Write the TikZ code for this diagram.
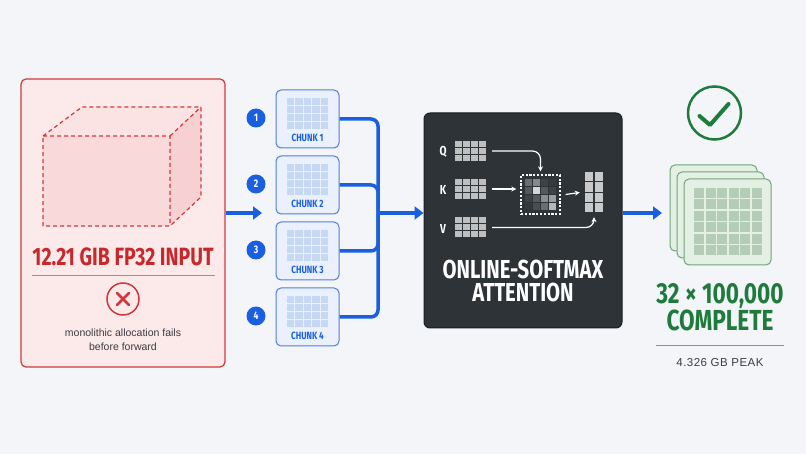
\documentclass[tikz,border=0pt]{standalone}
\usepackage{fontspec}
\setmainfont{Liberation Sans}
\newfontfamily\cond[FakeStretch=0.78]{Fira Sans}
\usetikzlibrary{arrows.meta,calc}
\definecolor{bg}{HTML}{F3F5F9}
\definecolor{redb}{HTML}{D0393B}
\definecolor{redt}{HTML}{C8282C}
\definecolor{redfill}{HTML}{FCE9E9}
\definecolor{cubefront}{HTML}{F9D9DA}
\definecolor{cubetop}{HTML}{FBE2E3}
\definecolor{cubeside}{HTML}{F6D0D2}
\definecolor{blu}{HTML}{1A5FE0}
\definecolor{chunkfill}{HTML}{EAF1FC}
\definecolor{chunkb}{HTML}{4D7FE0}
\definecolor{chunkcell}{HTML}{C7D8F5}
\definecolor{dark}{HTML}{2E3338}
\definecolor{darkb}{HTML}{1C1F23}
\definecolor{gcell}{HTML}{BDBFC1}
\definecolor{grn}{HTML}{1E7B3C}
\definecolor{grnfill}{HTML}{E4F0E4}
\definecolor{grnb}{HTML}{6FA57A}
\definecolor{grncell}{HTML}{B4CDB7}
\definecolor{txt}{HTML}{3A3D42}
\tikzset{
  blueline/.style={draw=blu, line width=3.5pt},
  bluearrow/.style={draw=blu, line width=4pt, -{Triangle[length=9pt,width=13pt]}},
  chunkbox/.style={draw=chunkb, fill=chunkfill, line width=1pt, rounded corners=5pt, minimum width=63pt, minimum height=58pt, inner sep=0pt},
  numdot/.style={circle, fill=blu, minimum size=19pt, inner sep=0pt, text=white, font=\cond\bfseries\fontsize{11}{11}\selectfont},
  warrow/.style={draw=white, line width=1.2pt, -{Stealth[length=5pt,width=5pt]}, rounded corners=8pt},
  card/.style={draw=grnb, fill=grnfill, line width=1pt, rounded corners=5pt, minimum width=87pt, minimum height=86pt, inner sep=0pt},
  atttext/.style={text=white, font=\cond\bfseries\fontsize{26}{26}\selectfont, inner sep=0pt},
  restext/.style={text=grn, font=\cond\bfseries\fontsize{29}{29}\selectfont, inner sep=0pt},
}
\begin{document}
\begin{tikzpicture}[x=1pt,y=-1pt]
\useasboundingbox (0,0) rectangle (806,454);
\fill[bg] (0,0) rectangle (806,454);

% ---------- left: failing input ----------
\node[draw=redb, fill=redfill, line width=1.2pt, rounded corners=5pt, minimum width=204pt, minimum height=288pt, inner sep=0pt] (inbox) at (123,223) {};
\fill[cubetop] (43,136) -- (82,107) -- (201,107) -- (170,136) -- cycle;
\fill[cubeside] (170,136) -- (201,107) -- (201,197) -- (170,226) -- cycle;
\fill[cubefront] (43,136) rectangle (170,226);
\draw[redb, line width=1.2pt, dash pattern=on 4pt off 3pt, line join=round]
  (43,136) -- (82,107) -- (201,107) -- (201,197) -- (170,226) -- (43,226) -- cycle
  (43,136) -- (170,136) -- (170,226)
  (170,136) -- (201,107);
\node[text=redt, font=\cond\bfseries\fontsize{25}{25}\selectfont] (intitle) at (123,257) {12.21 GIB FP32 INPUT};
\draw[redb!70, line width=0.8pt] (32,275) -- (215,275);
\node[circle, draw=redb, line width=1.5pt, minimum size=32pt, inner sep=0pt] (fail) at (123,299) {};
\draw[redb, line width=2.6pt, line cap=round] ($(fail.center)+(-6,-6)$) -- ($(fail.center)+(6,6)$) ($(fail.center)+(-6,6)$) -- ($(fail.center)+(6,-6)$);
\node[text=txt, font=\fontsize{10.5}{14}\selectfont, align=center] (failtxt) at (123,340) {monolithic allocation fails\\before forward};

% ---------- chunks ----------
\coordinate (bus) at (378,213);
\coordinate (inend) at (262,213);
\draw[bluearrow] (inbox.east |- bus) -- (inend);
\foreach \i/\y in {1/119,2/185,3/251,4/317}{
  \node[chunkbox] (c\i) at (307.5,\y) {};
  \foreach \c in {0,...,4}{
    \foreach \r in {0,...,3}{
      \fill[chunkcell] ($(c\i.center)+(-20.5+\c*8.4,-21+\r*8)$) rectangle ++(7.4,7);
    }
  }
  \node[text=blu, font=\cond\bfseries\fontsize{10.5}{10.5}\selectfont] (cl\i) at ($(c\i.center)+(0,19)$) {CHUNK \i};
  \node[numdot] (n\i) at (256,\y-1) {\i};
  \draw[blueline, rounded corners=7pt] (c\i.east) -- (bus |- c\i.east) -- (bus);
}

% ---------- attention box ----------
\node[fill=dark, draw=darkb, line width=1pt, rounded corners=6pt, minimum width=198pt, minimum height=215pt, inner sep=0pt] (att) at (523,220.5) {};
\draw[bluearrow] (bus) -- (att.west |- bus);

\foreach \n/\l/\y in {qg/Q/151,kg/K/189,vg/V/227.5}{
  \node[minimum width=31pt, minimum height=20pt, inner sep=0pt] (\n) at (470.5,\y) {};
  \foreach \c in {0,...,3}{
    \foreach \r in {0,...,2}{
      \fill[gcell] ($(\n.north west)+(\c*8,\r*7)$) rectangle ++(7,6);
    }
  }
  \node[text=white, font=\cond\bfseries\fontsize{13}{13}\selectfont] (\n lab) at (443,\y+1) {\l};
}

\node[draw=white, line width=1.3pt, dash pattern=on 2.2pt off 1.6pt, minimum width=39pt, minimum height=39pt, inner sep=0pt] (sm) at (540.5,194.5) {};
\foreach \r/\row in {0/{6A6E72,85898C,3E4246,363A3E},1/{55595D,D6D6D6,55595D,3E4246},2/{3E4246,55595D,8A8E91,9A9D9F},3/{34383C,4A4E52,6A6E72,B4B6B8}}{
  \foreach \col [count=\c from 0] in \row {
    \definecolor{cc}{HTML}{\col}
    \fill[cc] ($(sm.center)+(-15.5+\c*8,-15.5+\r*8)$) rectangle ++(7,7);
  }
}
\node[minimum width=18pt, minimum height=41pt, inner sep=0pt] (og) at (594,192.5) {};
\foreach \c in {0,1}{
  \foreach \r in {0,...,3}{
    \fill[gcell!85!white] ($(og.north west)+(\c*9.7,\r*10.4)$) rectangle ++(8.6,9.4);
  }
}
\draw[warrow] ([xshift=6pt]qg.east) -- (sm.north |- qg.east) -- ([yshift=3pt]sm.north);
\draw[warrow] ([xshift=6pt]kg.east) -- ([xshift=-4pt]sm.west |- kg.east);
\draw[warrow] ([xshift=5pt]sm.east) -- ([xshift=-5pt]og.west);
\draw[warrow] ([xshift=6pt]vg.east) -- (og.south |- vg.east) -- ([yshift=-4pt]og.south);
\node[atttext] (atttitle1) at (523,269) {ONLINE-SOFTMAX};
\node[atttext] (atttitle2) at (523,292.5) {ATTENTION};

% ---------- result ----------
\coordinate (resend) at (662,213);
\draw[bluearrow] (att.east |- bus) -- (resend);
\node[circle, draw=grn, line width=2.5pt, minimum size=53pt, inner sep=0pt] (chk) at (714.5,113) {};
\draw[grn, line width=4pt, line cap=round, line join=round] ($(chk.center)+(-15,3)$) -- ($(chk.center)+(-4.5,12)$) -- ($(chk.center)+(14,-9)$);
\node[card] (card1) at (713.5,208) {};
\node[card] (card2) at (720.5,215) {};
\node[card] (card3) at (727.5,222) {};
\foreach \c in {0,...,5}{
  \foreach \r in {0,...,5}{
    \fill[grncell] ($(card3.center)+(-33.5+\c*11.5,-34+\r*11.4)$) rectangle ++(10,10);
  }
}
\node[restext] (restitle1) at (720,296) {32 × 100,000};
\node[restext] (restitle2) at (720,320.5) {COMPLETE};
\draw[grnb, line width=0.8pt] (656,345) -- (784,345);
\node[text=txt, font=\fontsize{11.5}{12}\selectfont] (peak) at (720,363) {\addfontfeature{LetterSpace=4}4.326 GB PEAK};
\end{tikzpicture}
\end{document}
